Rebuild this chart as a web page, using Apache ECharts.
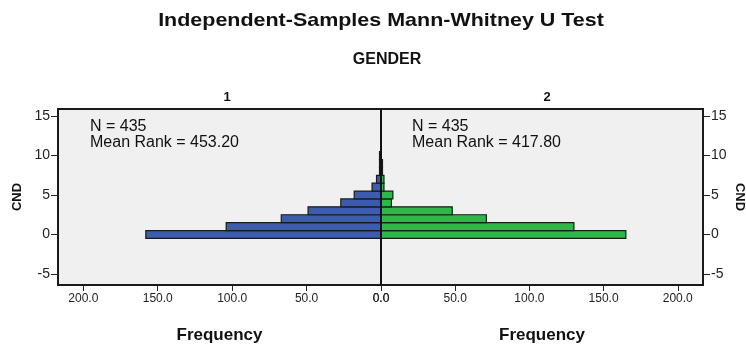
<!DOCTYPE html>
<html>
<head>
<meta charset="utf-8">
<script src="https://cdn.jsdelivr.net/npm/echarts@6/dist/echarts.min.js"></script>
<style>
  html, body { margin: 0; padding: 0; background: #ffffff; }
  #chart { width: 746px; height: 344px; }
</style>
</head>
<body>
<div id="chart"></div>
<script>
// CND bins (integer values) and frequency per gender group
const cndBins = [0, 1, 2, 3, 4, 5, 6, 7, 8, 9, 10];
const freqGender1 = [158, 104, 67, 49, 27, 18, 6, 3, 1, 1, 1];
const freqGender2 = [165, 130, 71, 48, 7, 8, 2, 2, 1, 1, 0];

const groupLabels = ['1', '2'];
const groupN = [435, 435];
const groupMeanRank = ['453.20', '417.80'];

const yTicks = [-5, 0, 5, 10, 15];
const xTicks = [0, 50, 100, 150, 200];

const FONT = 'Liberation Sans, Arial, Helvetica, sans-serif';
const BLUE = '#3d5cae';
const GREEN = '#2eb84b';

function pairs(counts) {
  const out = [];
  counts.forEach((c, i) => { if (c > 0) out.push([c, cndBins[i]]); });
  return out;
}

function renderBar(color) {
  return function (params, api) {
    const cnt = api.value(0);
    const bin = api.value(1);
    const a = api.coord([0, bin + 0.5]);
    const b = api.coord([cnt, bin - 0.5]);
    return {
      type: 'rect',
      shape: {
        x: Math.min(a[0], b[0]),
        y: Math.min(a[1], b[1]),
        width: Math.abs(b[0] - a[0]),
        height: Math.abs(b[1] - a[1])
      },
      style: { fill: color, stroke: '#1a1a1a', lineWidth: 1.2 }
    };
  };
}

const yMin = -6.4, yMax = 15.9, xMax = 217;

function xAxisCfg(gridIndex, inverse) {
  return {
    type: 'value', gridIndex, inverse, min: 0, max: xMax,
    axisLine: { show: false, onZero: false },
    axisTick: { show: true, customValues: xTicks, length: 6, lineStyle: { color: '#222', width: 1 } },
    axisLabel: {
      customValues: xTicks, margin: 8,
      formatter: v => v.toFixed(1),
      fontFamily: FONT, fontSize: 12, color: '#222'
    },
    splitLine: { show: false },
    name: 'Frequency', nameLocation: 'middle', nameGap: 42,
    nameTextStyle: { fontFamily: FONT, fontWeight: 'bold', fontSize: 17, color: '#111' }
  };
}

function yAxisCfg(gridIndex, position, gap) {
  return {
    type: 'value', gridIndex, position, min: yMin, max: yMax,
    axisLine: { show: false, onZero: false },
    axisTick: { show: true, customValues: yTicks, length: 7, lineStyle: { color: '#222', width: 1 } },
    axisLabel: {
      customValues: yTicks, margin: 8,
      fontFamily: FONT, fontSize: 14, color: '#222'
    },
    splitLine: { show: false },
    name: 'CND',
    nameLocation: 'middle',
    nameGap: gap,
    nameRotate: position === 'left' ? 90 : -90,
    nameTextStyle: { fontFamily: FONT, fontWeight: 'bold', fontSize: 13, color: '#111' }
  };
}

const chart = echarts.init(document.getElementById('chart'), null, { renderer: 'canvas' });

chart.setOption({
  animation: false,
  backgroundColor: '#ffffff',
  title: [
    { text: 'GENDER', left: 382, top: 47, textAlign: 'center',
      textStyle: { fontFamily: FONT, fontWeight: 'bold', fontSize: 16, color: '#111' } },
    { text: groupLabels[0], left: 222, top: 86, textAlign: 'center',
      textStyle: { fontFamily: FONT, fontWeight: 'bold', fontSize: 13, color: '#111' } },
    { text: groupLabels[1], left: 542, top: 86, textAlign: 'center',
      textStyle: { fontFamily: FONT, fontWeight: 'bold', fontSize: 13, color: '#111' } }
  ],
  grid: [
    { left: 58, top: 109, width: 323, height: 176, show: true, backgroundColor: '#f0f0f0',
      borderColor: '#1a1a1a', borderWidth: 2, outerBoundsMode: 'none', containLabel: false },
    { left: 381, top: 109, width: 322, height: 176, show: true, backgroundColor: '#f0f0f0',
      borderColor: '#1a1a1a', borderWidth: 2, outerBoundsMode: 'none', containLabel: false }
  ],
  xAxis: [xAxisCfg(0, true), xAxisCfg(1, false)],
  yAxis: [yAxisCfg(0, 'left', 34), yAxisCfg(1, 'right', 30)],
  graphic: [
    // main heading, set in a wide bold face
    { type: 'text', x: 381, y: 21, scaleX: 1.13, z: 10,
      style: { text: 'Independent-Samples Mann-Whitney U Test', font: 'bold 19px ' + FONT,
        fill: '#111', align: 'center', verticalAlign: 'middle' } },
    { type: 'text', left: 90, top: 119, z: 10,
      style: { text: 'N = ' + groupN[0] + '\nMean Rank = ' + groupMeanRank[0],
        font: '16px ' + FONT, fill: '#111', lineHeight: 15.6 } },
    { type: 'text', left: 412, top: 119, z: 10,
      style: { text: 'N = ' + groupN[1] + '\nMean Rank = ' + groupMeanRank[1],
        font: '16px ' + FONT, fill: '#111', lineHeight: 15.6 } }
  ],
  series: [
    { type: 'custom', xAxisIndex: 0, yAxisIndex: 0, renderItem: renderBar(BLUE),
      encode: { x: 0, y: 1 }, data: pairs(freqGender1), clip: true },
    { type: 'custom', xAxisIndex: 1, yAxisIndex: 1, renderItem: renderBar(GREEN),
      encode: { x: 0, y: 1 }, data: pairs(freqGender2), clip: true },
    // shared zero line between the two groups
    { type: 'line', xAxisIndex: 1, yAxisIndex: 1, symbol: 'none', silent: true,
      data: [[0, yMin], [0, yMax]], lineStyle: { color: '#111', width: 2 }, z: 5 }
  ]
});
</script>
</body>
</html>
